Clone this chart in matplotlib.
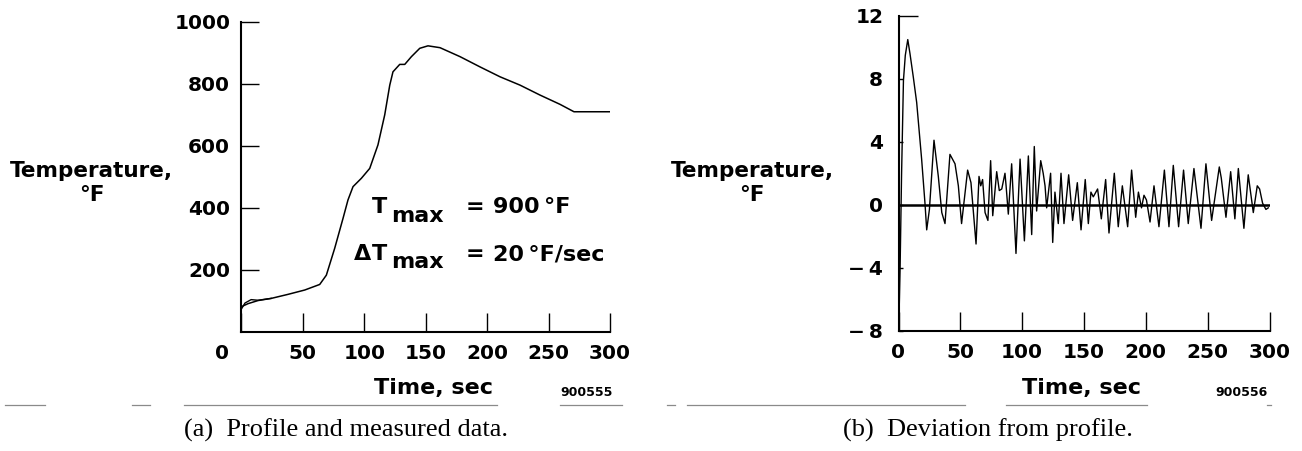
import matplotlib
matplotlib.use("Agg")
import matplotlib.pyplot as plt
from matplotlib.transforms import blended_transform_factory

# ---------------- data ----------------
# (a) profile and measured temperature, deg F vs time, sec
profile_time = [0, 5.5, 13.6, 24.4, 38, 51.6, 63.8, 69.2, 76, 82.8, 86.8, 90.9, 97.7,
                104.5, 111.2, 116.7, 120.8, 123.4, 128.9, 133, 138.4, 145.2, 151.9,
                161.7, 178, 194.2, 210.5, 226.8, 243, 259.3, 270.7, 300]
profile_temp = [80, 90, 100, 107, 120, 134, 152, 182, 269, 366, 425, 468, 495,
                527, 603, 700, 796, 839, 863, 863, 888, 915, 923,
                917, 888, 855, 823, 796, 764, 734, 710, 710]
measured_time = [0, 3, 8, 13.6, 24.4]
measured_temp = [72, 92, 103, 101, 107]

# (b) deviation from profile, deg F vs time, sec
dev_time = [0, 0.6, 1.3, 2.5, 4.0, 5.5, 7.5, 9.3, 12.0, 14.7, 18.7, 21.4, 22.8, 25.0,
            28.7, 32.2, 35.0, 37.6, 41.6, 45.7, 48.4, 51.0, 55.9, 58.6, 62.7, 65.1,
            66.5, 68.0, 70.0, 72.3, 74.5, 76.2, 79.4, 81.5, 83.5, 86.1, 87.0, 88.8,
            91.5, 95.0, 98.3, 101.8, 105.0, 107.7, 109.8, 111.7, 115.0, 117.0, 118.5,
            119.8, 123.0, 124.7, 126.5, 129.2, 131.4, 133.8, 137.6, 140.8, 144.6,
            147.6, 151.0, 153.5, 155.6, 157.5, 161.0, 164.0, 167.5, 170.2, 174.5,
            177.7, 181.0, 185.3, 188.5, 191.8, 194.0, 196.5, 198.5, 200.5, 203.4,
            206.6, 210.6, 215.0, 218.7, 222.2, 226.5, 230.5, 234.3, 238.9, 244.6,
            248.6, 253.2, 259.4, 261.0, 264.8, 268.6, 272.0, 274.8, 279.3, 282.8,
            286.9, 290.1, 292.0, 294.4, 297.1, 299.0]
dev_temp = [2.4, -6.5, -4.0, 2.0, 7.9, 9.5, 10.5, 9.6, 8.1, 6.5, 2.9, 0.1, -1.6, -0.3,
            4.1, 1.8, -0.5, -1.2, 3.2, 2.6, 1.2, -1.2, 2.2, 1.4, -2.5, 1.8,
            1.2, 1.6, -0.5, -1.0, 2.8, -0.7, 2.1, 0.9, 1.0, 2.0, 1.2, -0.6,
            2.6, -3.1, 2.9, -2.3, 3.1, -1.9, 3.7, -0.4, 2.8, 2.0, 1.2,
            -0.2, 2.0, -2.4, 0.8, -1.2, 2.0, -1.2, 1.9, -1.0, 1.4,
            -1.6, 1.6, -1.2, 0.8, 0.5, 1.0, -0.9, 1.6, -1.8, 2.0,
            -1.4, 1.2, -1.4, 2.2, -0.8, 0.8, -0.2, 0.6, 0.3, -1.1,
            1.2, -1.4, 2.2, -1.4, 2.5, -1.4, 2.2, -1.2, 2.3, -1.5,
            2.6, -1.0, 2.4, 1.7, -0.8, 2.1, -0.9, 2.3, -1.5, 1.9,
            -0.5, 1.2, 1.0, 0.1, -0.3, -0.2]

x_ticks = [0, 50, 100, 150, 200, 250, 300]
left_yticks = [200, 400, 600, 800, 1000]
right_yticks = [-8, -4, 0, 4, 8, 12]
right_ytick_labels = ["\u2212\u20098", "\u2212\u20094", "0", "4", "8", "12"]

# ---------------- figure ----------------
W, H = 1302, 451
fig = plt.figure(figsize=(W / 100, H / 100), dpi=100)
SANS = "DejaVu Sans"

def fx(px):
    return px / W

def fy(py):
    return 1 - py / H

axL = fig.add_axes([fx(241.3), fy(331.5), (610 - 241.3) / W, (331.5 - 22) / H])
axR = fig.add_axes([fx(898.5), fy(330.5), (1269.5 - 898.5) / W, (330.5 - 16) / H])

for ax in (axL, axR):
    for s in ("top", "right"):
        ax.spines[s].set_visible(False)
    for s in ("left", "bottom"):
        ax.spines[s].set_linewidth(1.5)
    ax.set_xlim(0, 300)
    ax.set_xticks(x_ticks)
    ax.tick_params(axis="both", direction="in", width=1.0, colors="black")
    ax.tick_params(axis="x", length=13.5, pad=9)

# left panel
axL.set_ylim(0, 1000)
axL.set_yticks(left_yticks)
axL.set_yticklabels([str(v) for v in left_yticks], fontfamily=SANS, fontweight="bold", fontsize=14.5)
axL.tick_params(axis="y", length=13, pad=8)
axL.set_xticklabels([""] + [str(v) for v in x_ticks[1:]], fontfamily=SANS, fontweight="bold", fontsize=14.5)
tr = blended_transform_factory(axL.transData, axL.transAxes)
axL.text(-16, -0.0695, "0", transform=tr, ha="center", va="center", clip_on=False,
         fontfamily=SANS, fontweight="bold", fontsize=14.5)
axL.plot(profile_time, profile_temp, color="black", lw=1.1)
axL.plot(measured_time, measured_temp, color="black", lw=1.0)

# right panel
axR.set_ylim(-8, 12)
axR.set_yticks(right_yticks)
axR.set_yticklabels(right_ytick_labels, fontfamily=SANS, fontweight="bold", fontsize=14.5)
axR.tick_params(axis="y", length=3, pad=11)
axR.set_xticklabels([str(v) for v in x_ticks], fontfamily=SANS, fontweight="bold", fontsize=14.5)
axR.yaxis.get_major_ticks()[-1].tick1line.set_markersize(13.5)
axR.axhline(0, color="black", lw=1.8)
axR.plot(dev_time, dev_temp, color="black", lw=1.0)

# axis labels
lab_kw = dict(fontfamily=SANS, fontweight="bold", ha="center", va="center")
for cx in (91.5, 752):
    fig.text(fx(cx), fy(183), "Temperature,\n\u00b0F", fontsize=15.5, linespacing=1.25, **lab_kw)
for cx in (434, 1081):
    fig.text(fx(cx), fy(388), "Time, sec", fontsize=16, **lab_kw)
fig.text(fx(587), fy(392), "900555", fontsize=9, **lab_kw)
fig.text(fx(1242), fy(392), "900556", fontsize=9, **lab_kw)

# annotation
ak = dict(fontfamily=SANS, fontweight="bold", fontsize=16, va="baseline")
fig.text(fx(371.5), fy(213), "T", ha="left", **ak)
fig.text(fx(391.5), fy(221.7), "max", ha="left", **ak)
fig.text(fx(475), fy(213), "=", ha="center", **ak)
fig.text(fx(493), fy(213), "900\u2009\u00b0F", ha="left", **ak)
fig.text(fx(371), fy(260), "\u0394", ha="right", **ak)
fig.text(fx(371.5), fy(260), "T", ha="left", **ak)
fig.text(fx(391.5), fy(268.5), "max", ha="left", **ak)
fig.text(fx(475), fy(260), "=", ha="center", **ak)
fig.text(fx(493), fy(260), "20\u2009\u00b0F/sec", ha="left", **ak)

# rule lines (scan artifacts of page rules)
rule_segments = [(5, 45), (132, 150), (184, 497), (560, 622),
                 (667, 675), (687, 965), (1006, 1147), (1267, 1271)]
for a, b in rule_segments:
    fig.add_artist(plt.Line2D([fx(a), fx(b)], [fy(405), fy(405)], color="#8a8a8a", lw=0.9))

# captions
cap_kw = dict(fontfamily="Liberation Serif", fontsize=19, ha="center", va="center")
fig.text(fx(346), fy(430), "(a)  Profile and measured data.", **cap_kw)
fig.text(fx(988), fy(430), "(b)  Deviation from profile.", **cap_kw)

fig.savefig("out.png", dpi=100)
